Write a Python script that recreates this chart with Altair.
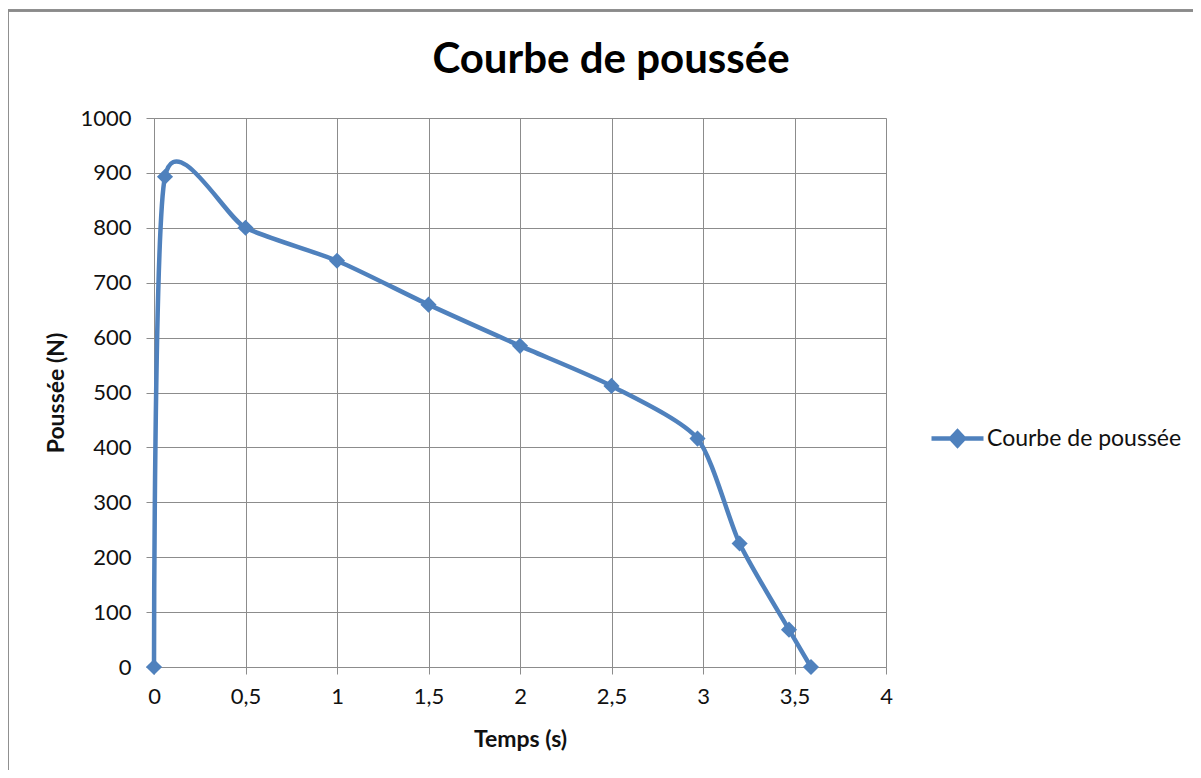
import altair as alt
import pandas as pd

# Data
temps = [0, 0.06, 0.5, 1.0, 1.5, 2.0, 2.5, 2.97, 3.2, 3.47, 3.59]
poussee = [0, 893, 800, 740, 660, 585, 512, 416, 225, 68, 0]
serie = "Courbe de poussée"

x_ticks = [0, 0.5, 1, 1.5, 2, 2.5, 3, 3.5, 4]
y_ticks = [0, 100, 200, 300, 400, 500, 600, 700, 800, 900, 1000]

df = pd.DataFrame({"Temps": temps, "Poussee": poussee, "Serie": [serie] * len(temps)})

BLUE = "#4F81BD"
GRID = "#8c8c8c"
FONT = "Lato"

x_enc = alt.X(
    "Temps:Q",
    scale=alt.Scale(domain=[0, 4], nice=False, zero=False),
    axis=alt.Axis(
        values=x_ticks,
        title="Temps (s)",
        labelExpr="replace(toString(datum.value), '.', ',')",
        labelFlush=False,
        grid=True, gridColor=GRID, gridWidth=1,
        domainColor=GRID, tickColor=GRID, tickSize=7,
        labelFont=FONT, labelFontSize=22, labelColor="#111",
        labelPadding=12,
        titleFont=FONT, titleFontSize=23, titleFontWeight="bold", titleColor="#111",
        titleBaseline="alphabetic", titleY=79,
    ),
)
y_enc = alt.Y(
    "Poussee:Q",
    scale=alt.Scale(domain=[0, 1000], nice=False),
    axis=alt.Axis(
        values=y_ticks,
        format="d",
        labelFlush=False,
        title="Poussée (N)",
        grid=True, gridColor=GRID, gridWidth=1,
        domainColor=GRID, tickColor=GRID, tickSize=8,
        labelFont=FONT, labelFontSize=22, labelColor="#111",
        labelPadding=15,
        titleFont=FONT, titleFontSize=23, titleFontWeight="bold", titleColor="#111",
        titleBaseline="alphabetic", titleX=-91, titleAngle=-90,
    ),
)

sym_path = "M-1,0H1M-0.25,0L0,-0.27L0.25,0L0,0.27Z"

line = alt.Chart(df).mark_line(
    interpolate="cardinal", tension=0.3, strokeWidth=4.5, color=BLUE
).encode(x=x_enc, y=y_enc)

points = alt.Chart(df).mark_point(
    shape="diamond", filled=True, size=260, opacity=1
).encode(
    x=x_enc,
    y=y_enc,
    color=alt.Color(
        "Serie:N",
        scale=alt.Scale(range=[BLUE]),
        legend=alt.Legend(
            title=None,
            orient="none",
            legendX=775,
            legendY=292,
            padding=0,
            symbolType=sym_path,
            symbolSize=2704,
            symbolFillColor=BLUE,
            symbolStrokeColor=BLUE,
            symbolStrokeWidth=4.5,
            symbolOpacity=1,
            labelFont=FONT,
            labelFontSize=23,
            labelColor="#111",
            labelOffset=1,
            labelLimit=400,
        ),
    ),
)

# outer frame lines (decoration, like the Excel chart area border)
frame_left = alt.Chart(df).mark_rule(color="#8a8a8a", strokeWidth=1.5).encode(
    x=alt.value(-146.5), y=alt.value(-107.5), y2=alt.value(660)
)
frame_top = alt.Chart(df).mark_rule(color="#8a8a8a", strokeWidth=1.5).encode(
    x=alt.value(-146.5), x2=alt.value(1050), y=alt.value(-107.5)
)

chart = alt.layer(frame_left, frame_top, line, points).properties(
    width=732,
    height=549,
    title=alt.TitleParams(
        "Courbe de poussée",
        font=FONT, fontSize=42, fontWeight="bold", color="#000",
        anchor="middle", frame="group", dx=91, offset=-105,
        baseline="alphabetic",
    ),
    autosize=alt.AutoSizeParams(type="none"),
    padding={"left": 146, "top": 110, "right": 307, "bottom": 103},
).configure_view(stroke=GRID, strokeWidth=1).configure(background="white")

chart.save("out.html", embed_options={"renderer": "svg", "actions": False})
